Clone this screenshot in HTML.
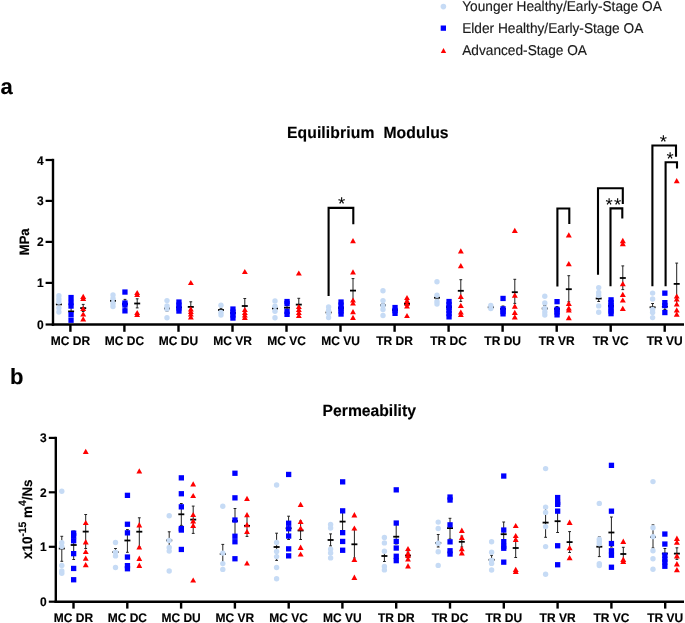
<!DOCTYPE html>
<html><head><meta charset="utf-8"><style>
html,body{margin:0;padding:0;background:#fff;}
svg{display:block;will-change:transform;}
text{font-family:"Liberation Sans",sans-serif;text-rendering:geometricPrecision;}
</style></head><body>
<svg width="685" height="623" viewBox="0 0 685 623">
<rect width="685" height="623" fill="#fff"/>
<circle cx="443.4" cy="6.6" r="2.8" fill="#c6dbf5"/>
<rect x="440.7" y="25.5" width="5.3" height="5.3" fill="#0000ff"/>
<path d="M443.5 48.1L446.2 52.9L440.8 52.9Z" fill="#ff0000"/>
<text transform="translate(462.20 10.90) scale(1 1.04)" font-size="13.7" fill="#1a1a1a" stroke="#1a1a1a" stroke-width="0.15">Younger Healthy/Early-Stage OA</text>
<text transform="translate(462.20 32.70) scale(1 1.04)" font-size="13.7" fill="#1a1a1a" stroke="#1a1a1a" stroke-width="0.15">Elder Healthy/Early-Stage OA</text>
<text transform="translate(462.20 54.60) scale(1 1.04)" font-size="13.7" fill="#1a1a1a" stroke="#1a1a1a" stroke-width="0.15">Advanced-Stage OA</text>
<text transform="translate(0.50 94.30)" font-size="22" font-weight="bold" fill="#000" stroke="#000" stroke-width="0.15">a</text>
<text transform="translate(9.90 383.70)" font-size="22" font-weight="bold" fill="#000" stroke="#000" stroke-width="0.15">b</text>
<text transform="translate(286.90 138.40) scale(1 1.04)" font-size="15.7" font-weight="bold" fill="#000" stroke="#000" stroke-width="0.15" textLength="161.7" lengthAdjust="spacing">Equilibrium&#160; Modulus</text>
<text transform="translate(322.60 416.20) scale(1 1.04)" font-size="15.7" font-weight="bold" fill="#000" stroke="#000" stroke-width="0.15">Permeability</text>
<line x1="53.0" y1="158.8" x2="53.0" y2="325.8" stroke="#000" stroke-width="2.4"/>
<line x1="51.8" y1="324.5" x2="684" y2="324.5" stroke="#000" stroke-width="2.6"/>
<line x1="45.6" y1="324.5" x2="53.0" y2="324.5" stroke="#000" stroke-width="2.2"/>
<text transform="translate(43.70 329.00) scale(1 1.04)" font-size="12" font-weight="bold" text-anchor="end" fill="#000" stroke="#000" stroke-width="0.15">0</text>
<line x1="45.6" y1="282.9" x2="53.0" y2="282.9" stroke="#000" stroke-width="2.2"/>
<text transform="translate(43.70 287.35) scale(1 1.04)" font-size="12" font-weight="bold" text-anchor="end" fill="#000" stroke="#000" stroke-width="0.15">1</text>
<line x1="45.6" y1="241.9" x2="53.0" y2="241.9" stroke="#000" stroke-width="2.2"/>
<text transform="translate(43.70 246.40) scale(1 1.04)" font-size="12" font-weight="bold" text-anchor="end" fill="#000" stroke="#000" stroke-width="0.15">2</text>
<line x1="45.6" y1="200.9" x2="53.0" y2="200.9" stroke="#000" stroke-width="2.2"/>
<text transform="translate(43.70 205.45) scale(1 1.04)" font-size="12" font-weight="bold" text-anchor="end" fill="#000" stroke="#000" stroke-width="0.15">3</text>
<line x1="45.6" y1="160.0" x2="53.0" y2="160.0" stroke="#000" stroke-width="2.2"/>
<text transform="translate(43.70 164.50) scale(1 1.04)" font-size="12" font-weight="bold" text-anchor="end" fill="#000" stroke="#000" stroke-width="0.15">4</text>
<line x1="70.4" y1="325" x2="70.4" y2="331.8" stroke="#000" stroke-width="2.4"/>
<text transform="translate(70.40 344.80) scale(1 1.04)" font-size="12" font-weight="bold" text-anchor="middle" fill="#000" stroke="#000" stroke-width="0.15">MC DR</text>
<line x1="124.4" y1="325" x2="124.4" y2="331.8" stroke="#000" stroke-width="2.4"/>
<text transform="translate(124.43 344.80) scale(1 1.04)" font-size="12" font-weight="bold" text-anchor="middle" fill="#000" stroke="#000" stroke-width="0.15">MC DC</text>
<line x1="178.5" y1="325" x2="178.5" y2="331.8" stroke="#000" stroke-width="2.4"/>
<text transform="translate(178.46 344.80) scale(1 1.04)" font-size="12" font-weight="bold" text-anchor="middle" fill="#000" stroke="#000" stroke-width="0.15">MC DU</text>
<line x1="232.5" y1="325" x2="232.5" y2="331.8" stroke="#000" stroke-width="2.4"/>
<text transform="translate(232.49 344.80) scale(1 1.04)" font-size="12" font-weight="bold" text-anchor="middle" fill="#000" stroke="#000" stroke-width="0.15">MC VR</text>
<line x1="286.5" y1="325" x2="286.5" y2="331.8" stroke="#000" stroke-width="2.4"/>
<text transform="translate(286.52 344.80) scale(1 1.04)" font-size="12" font-weight="bold" text-anchor="middle" fill="#000" stroke="#000" stroke-width="0.15">MC VC</text>
<line x1="340.5" y1="325" x2="340.5" y2="331.8" stroke="#000" stroke-width="2.4"/>
<text transform="translate(340.55 344.80) scale(1 1.04)" font-size="12" font-weight="bold" text-anchor="middle" fill="#000" stroke="#000" stroke-width="0.15">MC VU</text>
<line x1="394.6" y1="325" x2="394.6" y2="331.8" stroke="#000" stroke-width="2.4"/>
<text transform="translate(394.58 344.80) scale(1 1.04)" font-size="12" font-weight="bold" text-anchor="middle" fill="#000" stroke="#000" stroke-width="0.15">TR DR</text>
<line x1="448.6" y1="325" x2="448.6" y2="331.8" stroke="#000" stroke-width="2.4"/>
<text transform="translate(448.61 344.80) scale(1 1.04)" font-size="12" font-weight="bold" text-anchor="middle" fill="#000" stroke="#000" stroke-width="0.15">TR DC</text>
<line x1="502.6" y1="325" x2="502.6" y2="331.8" stroke="#000" stroke-width="2.4"/>
<text transform="translate(502.64 344.80) scale(1 1.04)" font-size="12" font-weight="bold" text-anchor="middle" fill="#000" stroke="#000" stroke-width="0.15">TR DU</text>
<line x1="556.7" y1="325" x2="556.7" y2="331.8" stroke="#000" stroke-width="2.4"/>
<text transform="translate(556.67 344.80) scale(1 1.04)" font-size="12" font-weight="bold" text-anchor="middle" fill="#000" stroke="#000" stroke-width="0.15">TR VR</text>
<line x1="610.7" y1="325" x2="610.7" y2="331.8" stroke="#000" stroke-width="2.4"/>
<text transform="translate(610.70 344.80) scale(1 1.04)" font-size="12" font-weight="bold" text-anchor="middle" fill="#000" stroke="#000" stroke-width="0.15">TR VC</text>
<line x1="664.7" y1="325" x2="664.7" y2="331.8" stroke="#000" stroke-width="2.4"/>
<text transform="translate(664.73 344.80) scale(1 1.04)" font-size="12" font-weight="bold" text-anchor="middle" fill="#000" stroke="#000" stroke-width="0.15">TR VU</text>
<text transform="translate(28.90 241.80) rotate(-90) scale(1 1.04)" font-size="13.1" font-weight="bold" text-anchor="middle" fill="#000" stroke="#000" stroke-width="0.15">MPa</text>
<line x1="55.8" y1="436.8" x2="55.8" y2="603" stroke="#000" stroke-width="2.4"/>
<line x1="54.599999999999994" y1="601.7" x2="684" y2="601.7" stroke="#000" stroke-width="2.6"/>
<line x1="48.8" y1="601.7" x2="55.8" y2="601.7" stroke="#000" stroke-width="2.2"/>
<text transform="translate(46.70 606.00) scale(1 1.04)" font-size="12" font-weight="bold" text-anchor="end" fill="#000" stroke="#000" stroke-width="0.15">0</text>
<line x1="48.8" y1="546.8" x2="55.8" y2="546.8" stroke="#000" stroke-width="2.2"/>
<text transform="translate(46.70 551.07) scale(1 1.04)" font-size="12" font-weight="bold" text-anchor="end" fill="#000" stroke="#000" stroke-width="0.15">1</text>
<line x1="48.8" y1="492.3" x2="55.8" y2="492.3" stroke="#000" stroke-width="2.2"/>
<text transform="translate(46.70 496.64) scale(1 1.04)" font-size="12" font-weight="bold" text-anchor="end" fill="#000" stroke="#000" stroke-width="0.15">2</text>
<line x1="48.8" y1="437.9" x2="55.8" y2="437.9" stroke="#000" stroke-width="2.2"/>
<text transform="translate(46.70 442.21) scale(1 1.04)" font-size="12" font-weight="bold" text-anchor="end" fill="#000" stroke="#000" stroke-width="0.15">3</text>
<line x1="73.5" y1="602.5" x2="73.5" y2="608.6" stroke="#000" stroke-width="2.4"/>
<text transform="translate(73.50 621.80) scale(1 1.04)" font-size="12" font-weight="bold" text-anchor="middle" fill="#000" stroke="#000" stroke-width="0.15">MC DR</text>
<line x1="127.3" y1="602.5" x2="127.3" y2="608.6" stroke="#000" stroke-width="2.4"/>
<text transform="translate(127.29 621.80) scale(1 1.04)" font-size="12" font-weight="bold" text-anchor="middle" fill="#000" stroke="#000" stroke-width="0.15">MC DC</text>
<line x1="181.1" y1="602.5" x2="181.1" y2="608.6" stroke="#000" stroke-width="2.4"/>
<text transform="translate(181.08 621.80) scale(1 1.04)" font-size="12" font-weight="bold" text-anchor="middle" fill="#000" stroke="#000" stroke-width="0.15">MC DU</text>
<line x1="234.9" y1="602.5" x2="234.9" y2="608.6" stroke="#000" stroke-width="2.4"/>
<text transform="translate(234.87 621.80) scale(1 1.04)" font-size="12" font-weight="bold" text-anchor="middle" fill="#000" stroke="#000" stroke-width="0.15">MC VR</text>
<line x1="288.7" y1="602.5" x2="288.7" y2="608.6" stroke="#000" stroke-width="2.4"/>
<text transform="translate(288.66 621.80) scale(1 1.04)" font-size="12" font-weight="bold" text-anchor="middle" fill="#000" stroke="#000" stroke-width="0.15">MC VC</text>
<line x1="342.4" y1="602.5" x2="342.4" y2="608.6" stroke="#000" stroke-width="2.4"/>
<text transform="translate(342.45 621.80) scale(1 1.04)" font-size="12" font-weight="bold" text-anchor="middle" fill="#000" stroke="#000" stroke-width="0.15">MC VU</text>
<line x1="396.2" y1="602.5" x2="396.2" y2="608.6" stroke="#000" stroke-width="2.4"/>
<text transform="translate(396.24 621.80) scale(1 1.04)" font-size="12" font-weight="bold" text-anchor="middle" fill="#000" stroke="#000" stroke-width="0.15">TR DR</text>
<line x1="450.0" y1="602.5" x2="450.0" y2="608.6" stroke="#000" stroke-width="2.4"/>
<text transform="translate(450.03 621.80) scale(1 1.04)" font-size="12" font-weight="bold" text-anchor="middle" fill="#000" stroke="#000" stroke-width="0.15">TR DC</text>
<line x1="503.8" y1="602.5" x2="503.8" y2="608.6" stroke="#000" stroke-width="2.4"/>
<text transform="translate(503.82 621.80) scale(1 1.04)" font-size="12" font-weight="bold" text-anchor="middle" fill="#000" stroke="#000" stroke-width="0.15">TR DU</text>
<line x1="557.6" y1="602.5" x2="557.6" y2="608.6" stroke="#000" stroke-width="2.4"/>
<text transform="translate(557.61 621.80) scale(1 1.04)" font-size="12" font-weight="bold" text-anchor="middle" fill="#000" stroke="#000" stroke-width="0.15">TR VR</text>
<line x1="611.4" y1="602.5" x2="611.4" y2="608.6" stroke="#000" stroke-width="2.4"/>
<text transform="translate(611.40 621.80) scale(1 1.04)" font-size="12" font-weight="bold" text-anchor="middle" fill="#000" stroke="#000" stroke-width="0.15">TR VC</text>
<line x1="665.2" y1="602.5" x2="665.2" y2="608.6" stroke="#000" stroke-width="2.4"/>
<text transform="translate(665.19 621.80) scale(1 1.04)" font-size="12" font-weight="bold" text-anchor="middle" fill="#000" stroke="#000" stroke-width="0.15">TR VU</text>
<text transform="translate(31.80 519.20) rotate(-90) scale(1 1.04)" font-size="13.4" font-weight="bold" text-anchor="middle" fill="#000" stroke="#000" stroke-width="0.15">x10<tspan dy="-5.8" font-size="10.3">-15</tspan><tspan dy="5.8"> m</tspan><tspan dy="-5.8" font-size="10.3">4</tspan><tspan dy="5.8">/Ns</tspan></text>
<line x1="58.9" y1="301.5" x2="58.9" y2="307.5" stroke="#222" stroke-width="1"/>
<line x1="57.5" y1="301.5" x2="60.3" y2="301.5" stroke="#222" stroke-width="1"/>
<line x1="57.5" y1="307.5" x2="60.3" y2="307.5" stroke="#222" stroke-width="1"/>
<line x1="55.9" y1="304.4" x2="61.9" y2="304.4" stroke="#000" stroke-width="1.8"/>
<line x1="71.1" y1="307.5" x2="71.1" y2="315.0" stroke="#222" stroke-width="1"/>
<line x1="69.7" y1="307.5" x2="72.5" y2="307.5" stroke="#222" stroke-width="1"/>
<line x1="69.7" y1="315.0" x2="72.5" y2="315.0" stroke="#222" stroke-width="1"/>
<line x1="68.1" y1="311.4" x2="74.1" y2="311.4" stroke="#000" stroke-width="1.8"/>
<line x1="83.2" y1="304.4" x2="83.2" y2="311.5" stroke="#222" stroke-width="1"/>
<line x1="81.8" y1="304.4" x2="84.6" y2="304.4" stroke="#222" stroke-width="1"/>
<line x1="81.8" y1="311.5" x2="84.6" y2="311.5" stroke="#222" stroke-width="1"/>
<line x1="80.2" y1="308.1" x2="86.2" y2="308.1" stroke="#000" stroke-width="1.8"/>
<line x1="113.0" y1="298.0" x2="113.0" y2="303.5" stroke="#222" stroke-width="1"/>
<line x1="111.6" y1="298.0" x2="114.4" y2="298.0" stroke="#222" stroke-width="1"/>
<line x1="111.6" y1="303.5" x2="114.4" y2="303.5" stroke="#222" stroke-width="1"/>
<line x1="110.0" y1="300.8" x2="116.0" y2="300.8" stroke="#000" stroke-width="1.8"/>
<line x1="125.0" y1="299.4" x2="125.0" y2="308.6" stroke="#222" stroke-width="1"/>
<line x1="123.6" y1="299.4" x2="126.4" y2="299.4" stroke="#222" stroke-width="1"/>
<line x1="123.6" y1="308.6" x2="126.4" y2="308.6" stroke="#222" stroke-width="1"/>
<line x1="122.0" y1="304.0" x2="128.0" y2="304.0" stroke="#000" stroke-width="1.8"/>
<line x1="137.2" y1="298.8" x2="137.2" y2="307.9" stroke="#222" stroke-width="1"/>
<line x1="135.8" y1="298.8" x2="138.6" y2="298.8" stroke="#222" stroke-width="1"/>
<line x1="135.8" y1="307.9" x2="138.6" y2="307.9" stroke="#222" stroke-width="1"/>
<line x1="134.2" y1="303.5" x2="140.2" y2="303.5" stroke="#000" stroke-width="1.8"/>
<line x1="167.0" y1="305.5" x2="167.0" y2="311.0" stroke="#222" stroke-width="1"/>
<line x1="165.6" y1="305.5" x2="168.4" y2="305.5" stroke="#222" stroke-width="1"/>
<line x1="165.6" y1="311.0" x2="168.4" y2="311.0" stroke="#222" stroke-width="1"/>
<line x1="164.0" y1="308.5" x2="170.0" y2="308.5" stroke="#000" stroke-width="1.8"/>
<line x1="179.0" y1="305.5" x2="179.0" y2="310.0" stroke="#222" stroke-width="1"/>
<line x1="177.6" y1="305.5" x2="180.4" y2="305.5" stroke="#222" stroke-width="1"/>
<line x1="177.6" y1="310.0" x2="180.4" y2="310.0" stroke="#222" stroke-width="1"/>
<line x1="176.0" y1="307.5" x2="182.0" y2="307.5" stroke="#000" stroke-width="1.8"/>
<line x1="190.8" y1="301.8" x2="190.8" y2="311.0" stroke="#222" stroke-width="1"/>
<line x1="189.4" y1="301.8" x2="192.2" y2="301.8" stroke="#222" stroke-width="1"/>
<line x1="189.4" y1="311.0" x2="192.2" y2="311.0" stroke="#222" stroke-width="1"/>
<line x1="187.8" y1="306.9" x2="193.8" y2="306.9" stroke="#000" stroke-width="1.8"/>
<line x1="221.0" y1="308.3" x2="221.0" y2="312.0" stroke="#222" stroke-width="1"/>
<line x1="219.6" y1="308.3" x2="222.4" y2="308.3" stroke="#222" stroke-width="1"/>
<line x1="219.6" y1="312.0" x2="222.4" y2="312.0" stroke="#222" stroke-width="1"/>
<line x1="218.0" y1="310.0" x2="224.0" y2="310.0" stroke="#000" stroke-width="1.8"/>
<line x1="233.0" y1="311.0" x2="233.0" y2="315.0" stroke="#222" stroke-width="1"/>
<line x1="231.6" y1="311.0" x2="234.4" y2="311.0" stroke="#222" stroke-width="1"/>
<line x1="231.6" y1="315.0" x2="234.4" y2="315.0" stroke="#222" stroke-width="1"/>
<line x1="230.0" y1="313.0" x2="236.0" y2="313.0" stroke="#000" stroke-width="1.8"/>
<line x1="244.8" y1="298.5" x2="244.8" y2="311.0" stroke="#222" stroke-width="1"/>
<line x1="243.4" y1="298.5" x2="246.2" y2="298.5" stroke="#222" stroke-width="1"/>
<line x1="243.4" y1="311.0" x2="246.2" y2="311.0" stroke="#222" stroke-width="1"/>
<line x1="241.8" y1="306.0" x2="247.8" y2="306.0" stroke="#000" stroke-width="1.8"/>
<line x1="275.0" y1="305.5" x2="275.0" y2="311.5" stroke="#222" stroke-width="1"/>
<line x1="273.6" y1="305.5" x2="276.4" y2="305.5" stroke="#222" stroke-width="1"/>
<line x1="273.6" y1="311.5" x2="276.4" y2="311.5" stroke="#222" stroke-width="1"/>
<line x1="272.0" y1="308.5" x2="278.0" y2="308.5" stroke="#000" stroke-width="1.8"/>
<line x1="287.0" y1="305.5" x2="287.0" y2="310.0" stroke="#222" stroke-width="1"/>
<line x1="285.6" y1="305.5" x2="288.4" y2="305.5" stroke="#222" stroke-width="1"/>
<line x1="285.6" y1="310.0" x2="288.4" y2="310.0" stroke="#222" stroke-width="1"/>
<line x1="284.0" y1="307.7" x2="290.0" y2="307.7" stroke="#000" stroke-width="1.8"/>
<line x1="298.8" y1="298.3" x2="298.8" y2="310.0" stroke="#222" stroke-width="1"/>
<line x1="297.4" y1="298.3" x2="300.2" y2="298.3" stroke="#222" stroke-width="1"/>
<line x1="297.4" y1="310.0" x2="300.2" y2="310.0" stroke="#222" stroke-width="1"/>
<line x1="295.8" y1="304.6" x2="301.8" y2="304.6" stroke="#000" stroke-width="1.8"/>
<line x1="328.6" y1="310.0" x2="328.6" y2="315.0" stroke="#222" stroke-width="1"/>
<line x1="327.2" y1="310.0" x2="330.0" y2="310.0" stroke="#222" stroke-width="1"/>
<line x1="327.2" y1="315.0" x2="330.0" y2="315.0" stroke="#222" stroke-width="1"/>
<line x1="325.6" y1="312.5" x2="331.6" y2="312.5" stroke="#000" stroke-width="1.8"/>
<line x1="341.0" y1="305.5" x2="341.0" y2="310.5" stroke="#222" stroke-width="1"/>
<line x1="339.6" y1="305.5" x2="342.4" y2="305.5" stroke="#222" stroke-width="1"/>
<line x1="339.6" y1="310.5" x2="342.4" y2="310.5" stroke="#222" stroke-width="1"/>
<line x1="338.0" y1="308.0" x2="344.0" y2="308.0" stroke="#000" stroke-width="1.8"/>
<line x1="353.0" y1="278.6" x2="353.0" y2="300.9" stroke="#222" stroke-width="1"/>
<line x1="351.6" y1="278.6" x2="354.4" y2="278.6" stroke="#222" stroke-width="1"/>
<line x1="351.6" y1="300.9" x2="354.4" y2="300.9" stroke="#222" stroke-width="1"/>
<line x1="350.0" y1="290.6" x2="356.0" y2="290.6" stroke="#000" stroke-width="1.8"/>
<line x1="383.0" y1="303.5" x2="383.0" y2="307.5" stroke="#222" stroke-width="1"/>
<line x1="381.6" y1="303.5" x2="384.4" y2="303.5" stroke="#222" stroke-width="1"/>
<line x1="381.6" y1="307.5" x2="384.4" y2="307.5" stroke="#222" stroke-width="1"/>
<line x1="380.0" y1="305.3" x2="386.0" y2="305.3" stroke="#000" stroke-width="1.8"/>
<line x1="395.0" y1="308.0" x2="395.0" y2="312.0" stroke="#222" stroke-width="1"/>
<line x1="393.6" y1="308.0" x2="396.4" y2="308.0" stroke="#222" stroke-width="1"/>
<line x1="393.6" y1="312.0" x2="396.4" y2="312.0" stroke="#222" stroke-width="1"/>
<line x1="392.0" y1="310.0" x2="398.0" y2="310.0" stroke="#000" stroke-width="1.8"/>
<line x1="407.0" y1="301.0" x2="407.0" y2="307.0" stroke="#222" stroke-width="1"/>
<line x1="405.6" y1="301.0" x2="408.4" y2="301.0" stroke="#222" stroke-width="1"/>
<line x1="405.6" y1="307.0" x2="408.4" y2="307.0" stroke="#222" stroke-width="1"/>
<line x1="404.0" y1="303.9" x2="410.0" y2="303.9" stroke="#000" stroke-width="1.8"/>
<line x1="437.0" y1="296.0" x2="437.0" y2="299.4" stroke="#222" stroke-width="1"/>
<line x1="435.6" y1="296.0" x2="438.4" y2="296.0" stroke="#222" stroke-width="1"/>
<line x1="435.6" y1="299.4" x2="438.4" y2="299.4" stroke="#222" stroke-width="1"/>
<line x1="434.0" y1="297.7" x2="440.0" y2="297.7" stroke="#000" stroke-width="1.8"/>
<line x1="449.0" y1="304.5" x2="449.0" y2="309.5" stroke="#222" stroke-width="1"/>
<line x1="447.6" y1="304.5" x2="450.4" y2="304.5" stroke="#222" stroke-width="1"/>
<line x1="447.6" y1="309.5" x2="450.4" y2="309.5" stroke="#222" stroke-width="1"/>
<line x1="446.0" y1="307.0" x2="452.0" y2="307.0" stroke="#000" stroke-width="1.8"/>
<line x1="460.8" y1="279.7" x2="460.8" y2="301.4" stroke="#222" stroke-width="1"/>
<line x1="459.4" y1="279.7" x2="462.2" y2="279.7" stroke="#222" stroke-width="1"/>
<line x1="459.4" y1="301.4" x2="462.2" y2="301.4" stroke="#222" stroke-width="1"/>
<line x1="457.8" y1="290.8" x2="463.8" y2="290.8" stroke="#000" stroke-width="1.8"/>
<line x1="490.8" y1="306.0" x2="490.8" y2="308.5" stroke="#222" stroke-width="1"/>
<line x1="489.4" y1="306.0" x2="492.2" y2="306.0" stroke="#222" stroke-width="1"/>
<line x1="489.4" y1="308.5" x2="492.2" y2="308.5" stroke="#222" stroke-width="1"/>
<line x1="487.8" y1="307.3" x2="493.8" y2="307.3" stroke="#000" stroke-width="1.8"/>
<line x1="503.0" y1="306.0" x2="503.0" y2="312.0" stroke="#222" stroke-width="1"/>
<line x1="501.6" y1="306.0" x2="504.4" y2="306.0" stroke="#222" stroke-width="1"/>
<line x1="501.6" y1="312.0" x2="504.4" y2="312.0" stroke="#222" stroke-width="1"/>
<line x1="500.0" y1="309.0" x2="506.0" y2="309.0" stroke="#000" stroke-width="1.8"/>
<line x1="514.8" y1="279.3" x2="514.8" y2="303.4" stroke="#222" stroke-width="1"/>
<line x1="513.4" y1="279.3" x2="516.2" y2="279.3" stroke="#222" stroke-width="1"/>
<line x1="513.4" y1="303.4" x2="516.2" y2="303.4" stroke="#222" stroke-width="1"/>
<line x1="511.8" y1="292.2" x2="517.8" y2="292.2" stroke="#000" stroke-width="1.8"/>
<line x1="544.8" y1="305.5" x2="544.8" y2="309.5" stroke="#222" stroke-width="1"/>
<line x1="543.4" y1="305.5" x2="546.2" y2="305.5" stroke="#222" stroke-width="1"/>
<line x1="543.4" y1="309.5" x2="546.2" y2="309.5" stroke="#222" stroke-width="1"/>
<line x1="541.8" y1="308.5" x2="547.8" y2="308.5" stroke="#000" stroke-width="1.8"/>
<line x1="557.0" y1="306.5" x2="557.0" y2="311.5" stroke="#222" stroke-width="1"/>
<line x1="555.6" y1="306.5" x2="558.4" y2="306.5" stroke="#222" stroke-width="1"/>
<line x1="555.6" y1="311.5" x2="558.4" y2="311.5" stroke="#222" stroke-width="1"/>
<line x1="554.0" y1="309.0" x2="560.0" y2="309.0" stroke="#000" stroke-width="1.8"/>
<line x1="568.8" y1="275.7" x2="568.8" y2="301.8" stroke="#222" stroke-width="1"/>
<line x1="567.4" y1="275.7" x2="570.2" y2="275.7" stroke="#222" stroke-width="1"/>
<line x1="567.4" y1="301.8" x2="570.2" y2="301.8" stroke="#222" stroke-width="1"/>
<line x1="565.8" y1="289.2" x2="571.8" y2="289.2" stroke="#000" stroke-width="1.8"/>
<line x1="598.7" y1="295.5" x2="598.7" y2="301.5" stroke="#222" stroke-width="1"/>
<line x1="597.3" y1="295.5" x2="600.1" y2="295.5" stroke="#222" stroke-width="1"/>
<line x1="597.3" y1="301.5" x2="600.1" y2="301.5" stroke="#222" stroke-width="1"/>
<line x1="595.7" y1="298.5" x2="601.7" y2="298.5" stroke="#000" stroke-width="1.8"/>
<line x1="611.0" y1="303.5" x2="611.0" y2="308.5" stroke="#222" stroke-width="1"/>
<line x1="609.6" y1="303.5" x2="612.4" y2="303.5" stroke="#222" stroke-width="1"/>
<line x1="609.6" y1="308.5" x2="612.4" y2="308.5" stroke="#222" stroke-width="1"/>
<line x1="608.0" y1="306.0" x2="614.0" y2="306.0" stroke="#000" stroke-width="1.8"/>
<line x1="622.8" y1="265.9" x2="622.8" y2="289.6" stroke="#222" stroke-width="1"/>
<line x1="621.4" y1="265.9" x2="624.2" y2="265.9" stroke="#222" stroke-width="1"/>
<line x1="621.4" y1="289.6" x2="624.2" y2="289.6" stroke="#222" stroke-width="1"/>
<line x1="619.8" y1="278.0" x2="625.8" y2="278.0" stroke="#000" stroke-width="1.8"/>
<line x1="652.6" y1="303.5" x2="652.6" y2="310.5" stroke="#222" stroke-width="1"/>
<line x1="651.2" y1="303.5" x2="654.0" y2="303.5" stroke="#222" stroke-width="1"/>
<line x1="651.2" y1="310.5" x2="654.0" y2="310.5" stroke="#222" stroke-width="1"/>
<line x1="649.6" y1="307.3" x2="655.6" y2="307.3" stroke="#000" stroke-width="1.8"/>
<line x1="664.9" y1="303.5" x2="664.9" y2="309.5" stroke="#222" stroke-width="1"/>
<line x1="663.5" y1="303.5" x2="666.3" y2="303.5" stroke="#222" stroke-width="1"/>
<line x1="663.5" y1="309.5" x2="666.3" y2="309.5" stroke="#222" stroke-width="1"/>
<line x1="661.9" y1="306.6" x2="667.9" y2="306.6" stroke="#000" stroke-width="1.8"/>
<line x1="676.7" y1="263.1" x2="676.7" y2="304.5" stroke="#222" stroke-width="1"/>
<line x1="675.3" y1="263.1" x2="678.1" y2="263.1" stroke="#222" stroke-width="1"/>
<line x1="675.3" y1="304.5" x2="678.1" y2="304.5" stroke="#222" stroke-width="1"/>
<line x1="673.7" y1="283.9" x2="679.7" y2="283.9" stroke="#000" stroke-width="1.8"/>
<circle cx="58.9" cy="295.8" r="2.7" fill="#c6dbf5"/>
<circle cx="58.9" cy="299.0" r="2.7" fill="#c6dbf5"/>
<circle cx="58.9" cy="302.0" r="2.7" fill="#c6dbf5"/>
<circle cx="58.9" cy="308.0" r="2.7" fill="#c6dbf5"/>
<circle cx="58.9" cy="312.0" r="2.7" fill="#c6dbf5"/>
<rect x="68.4" y="294.9" width="5.3" height="5.3" fill="#0000ff"/>
<rect x="68.4" y="299.9" width="5.3" height="5.3" fill="#0000ff"/>
<rect x="68.4" y="303.4" width="5.3" height="5.3" fill="#0000ff"/>
<rect x="68.4" y="312.0" width="5.3" height="5.3" fill="#0000ff"/>
<rect x="68.4" y="317.6" width="5.3" height="5.3" fill="#0000ff"/>
<path d="M83.2 293.7L86.2 298.9L80.2 298.9Z" fill="#ff0000"/>
<path d="M83.2 295.9L86.2 301.1L80.2 301.1Z" fill="#ff0000"/>
<path d="M83.2 305.9L86.2 311.1L80.2 311.1Z" fill="#ff0000"/>
<path d="M83.2 311.4L86.2 316.6L80.2 316.6Z" fill="#ff0000"/>
<path d="M83.2 316.2L86.2 321.4L80.2 321.4Z" fill="#ff0000"/>
<circle cx="113.0" cy="295.0" r="2.7" fill="#c6dbf5"/>
<circle cx="113.0" cy="298.5" r="2.7" fill="#c6dbf5"/>
<circle cx="113.0" cy="303.5" r="2.7" fill="#c6dbf5"/>
<circle cx="113.0" cy="306.5" r="2.7" fill="#c6dbf5"/>
<rect x="122.3" y="289.4" width="5.3" height="5.3" fill="#0000ff"/>
<rect x="122.3" y="300.4" width="5.3" height="5.3" fill="#0000ff"/>
<rect x="122.3" y="302.4" width="5.3" height="5.3" fill="#0000ff"/>
<rect x="122.3" y="308.2" width="5.3" height="5.3" fill="#0000ff"/>
<path d="M137.2 289.9L140.1 295.1L134.2 295.1Z" fill="#ff0000"/>
<path d="M137.2 291.9L140.1 297.1L134.2 297.1Z" fill="#ff0000"/>
<path d="M137.2 309.9L140.1 315.1L134.2 315.1Z" fill="#ff0000"/>
<path d="M137.2 311.9L140.1 317.1L134.2 317.1Z" fill="#ff0000"/>
<circle cx="167.0" cy="300.6" r="2.7" fill="#c6dbf5"/>
<circle cx="167.0" cy="306.0" r="2.7" fill="#c6dbf5"/>
<circle cx="167.0" cy="309.0" r="2.7" fill="#c6dbf5"/>
<circle cx="167.0" cy="317.7" r="2.7" fill="#c6dbf5"/>
<rect x="176.3" y="299.4" width="5.3" height="5.3" fill="#0000ff"/>
<rect x="176.3" y="302.4" width="5.3" height="5.3" fill="#0000ff"/>
<rect x="176.3" y="305.4" width="5.3" height="5.3" fill="#0000ff"/>
<rect x="176.3" y="308.4" width="5.3" height="5.3" fill="#0000ff"/>
<path d="M190.8 279.9L193.8 285.1L187.9 285.1Z" fill="#ff0000"/>
<path d="M190.8 306.2L193.8 311.4L187.9 311.4Z" fill="#ff0000"/>
<path d="M190.8 308.9L193.8 314.1L187.9 314.1Z" fill="#ff0000"/>
<path d="M190.8 311.4L193.8 316.6L187.9 316.6Z" fill="#ff0000"/>
<path d="M190.8 314.2L193.8 319.4L187.9 319.4Z" fill="#ff0000"/>
<circle cx="221.0" cy="305.3" r="2.7" fill="#c6dbf5"/>
<circle cx="221.0" cy="312.5" r="2.7" fill="#c6dbf5"/>
<circle cx="221.0" cy="315.0" r="2.7" fill="#c6dbf5"/>
<rect x="230.3" y="306.4" width="5.3" height="5.3" fill="#0000ff"/>
<rect x="230.3" y="309.4" width="5.3" height="5.3" fill="#0000ff"/>
<rect x="230.3" y="312.4" width="5.3" height="5.3" fill="#0000ff"/>
<rect x="230.3" y="315.4" width="5.3" height="5.3" fill="#0000ff"/>
<path d="M244.8 268.9L247.8 274.1L241.9 274.1Z" fill="#ff0000"/>
<path d="M244.8 306.9L247.8 312.1L241.9 312.1Z" fill="#ff0000"/>
<path d="M244.8 309.9L247.8 315.1L241.9 315.1Z" fill="#ff0000"/>
<path d="M244.8 312.4L247.8 317.6L241.9 317.6Z" fill="#ff0000"/>
<path d="M244.8 314.7L247.8 319.9L241.9 319.9Z" fill="#ff0000"/>
<circle cx="275.0" cy="300.9" r="2.7" fill="#c6dbf5"/>
<circle cx="275.0" cy="306.2" r="2.7" fill="#c6dbf5"/>
<circle cx="275.0" cy="311.3" r="2.7" fill="#c6dbf5"/>
<circle cx="275.0" cy="317.7" r="2.7" fill="#c6dbf5"/>
<rect x="284.4" y="298.9" width="5.3" height="5.3" fill="#0000ff"/>
<rect x="284.4" y="300.9" width="5.3" height="5.3" fill="#0000ff"/>
<rect x="284.4" y="308.7" width="5.3" height="5.3" fill="#0000ff"/>
<rect x="284.4" y="311.7" width="5.3" height="5.3" fill="#0000ff"/>
<path d="M298.8 270.4L301.8 275.6L295.9 275.6Z" fill="#ff0000"/>
<path d="M298.8 303.9L301.8 309.1L295.9 309.1Z" fill="#ff0000"/>
<path d="M298.8 306.9L301.8 312.1L295.9 312.1Z" fill="#ff0000"/>
<path d="M298.8 309.9L301.8 315.1L295.9 315.1Z" fill="#ff0000"/>
<path d="M298.8 312.9L301.8 318.1L295.9 318.1Z" fill="#ff0000"/>
<circle cx="328.6" cy="307.0" r="2.7" fill="#c6dbf5"/>
<circle cx="328.6" cy="310.5" r="2.7" fill="#c6dbf5"/>
<circle cx="328.6" cy="313.6" r="2.7" fill="#c6dbf5"/>
<circle cx="328.6" cy="317.6" r="2.7" fill="#c6dbf5"/>
<rect x="338.4" y="299.4" width="5.3" height="5.3" fill="#0000ff"/>
<rect x="338.4" y="302.4" width="5.3" height="5.3" fill="#0000ff"/>
<rect x="338.4" y="305.9" width="5.3" height="5.3" fill="#0000ff"/>
<rect x="338.4" y="308.4" width="5.3" height="5.3" fill="#0000ff"/>
<rect x="338.4" y="311.4" width="5.3" height="5.3" fill="#0000ff"/>
<path d="M353.0 237.9L355.9 243.2L350.1 243.2Z" fill="#ff0000"/>
<path d="M353.0 269.2L355.9 274.4L350.1 274.4Z" fill="#ff0000"/>
<path d="M353.0 297.4L355.9 302.6L350.1 302.6Z" fill="#ff0000"/>
<path d="M353.0 300.4L355.9 305.6L350.1 305.6Z" fill="#ff0000"/>
<path d="M353.0 309.1L355.9 314.3L350.1 314.3Z" fill="#ff0000"/>
<path d="M353.0 314.7L355.9 319.9L350.1 319.9Z" fill="#ff0000"/>
<circle cx="383.0" cy="290.8" r="2.7" fill="#c6dbf5"/>
<circle cx="383.0" cy="300.6" r="2.7" fill="#c6dbf5"/>
<circle cx="383.0" cy="305.6" r="2.7" fill="#c6dbf5"/>
<circle cx="383.0" cy="309.5" r="2.7" fill="#c6dbf5"/>
<circle cx="383.0" cy="315.5" r="2.7" fill="#c6dbf5"/>
<rect x="392.4" y="304.9" width="5.3" height="5.3" fill="#0000ff"/>
<rect x="392.4" y="307.9" width="5.3" height="5.3" fill="#0000ff"/>
<rect x="392.4" y="310.7" width="5.3" height="5.3" fill="#0000ff"/>
<path d="M407.0 294.9L409.9 300.1L404.1 300.1Z" fill="#ff0000"/>
<path d="M407.0 297.9L409.9 303.1L404.1 303.1Z" fill="#ff0000"/>
<path d="M407.0 300.9L409.9 306.1L404.1 306.1Z" fill="#ff0000"/>
<path d="M407.0 303.4L409.9 308.6L404.1 308.6Z" fill="#ff0000"/>
<path d="M407.0 312.9L409.9 318.1L404.1 318.1Z" fill="#ff0000"/>
<circle cx="437.0" cy="281.7" r="2.7" fill="#c6dbf5"/>
<circle cx="437.0" cy="295.3" r="2.7" fill="#c6dbf5"/>
<circle cx="437.0" cy="301.5" r="2.7" fill="#c6dbf5"/>
<circle cx="437.0" cy="304.0" r="2.7" fill="#c6dbf5"/>
<rect x="446.4" y="298.9" width="5.3" height="5.3" fill="#0000ff"/>
<rect x="446.4" y="301.9" width="5.3" height="5.3" fill="#0000ff"/>
<rect x="446.4" y="304.9" width="5.3" height="5.3" fill="#0000ff"/>
<rect x="446.4" y="307.9" width="5.3" height="5.3" fill="#0000ff"/>
<rect x="446.4" y="310.9" width="5.3" height="5.3" fill="#0000ff"/>
<rect x="446.4" y="314.2" width="5.3" height="5.3" fill="#0000ff"/>
<path d="M460.8 248.2L463.8 253.5L457.9 253.5Z" fill="#ff0000"/>
<path d="M460.8 263.0L463.8 268.2L457.9 268.2Z" fill="#ff0000"/>
<path d="M460.8 293.7L463.8 298.9L457.9 298.9Z" fill="#ff0000"/>
<path d="M460.8 302.7L463.8 307.9L457.9 307.9Z" fill="#ff0000"/>
<path d="M460.8 309.4L463.8 314.6L457.9 314.6Z" fill="#ff0000"/>
<path d="M460.8 311.9L463.8 317.1L457.9 317.1Z" fill="#ff0000"/>
<circle cx="490.8" cy="305.5" r="2.7" fill="#c6dbf5"/>
<circle cx="490.8" cy="308.5" r="2.7" fill="#c6dbf5"/>
<rect x="500.4" y="295.8" width="5.3" height="5.3" fill="#0000ff"/>
<rect x="500.4" y="306.2" width="5.3" height="5.3" fill="#0000ff"/>
<rect x="500.4" y="308.9" width="5.3" height="5.3" fill="#0000ff"/>
<rect x="500.4" y="311.2" width="5.3" height="5.3" fill="#0000ff"/>
<path d="M514.8 227.8L517.8 233.1L511.8 233.1Z" fill="#ff0000"/>
<path d="M514.8 292.5L517.8 297.8L511.8 297.8Z" fill="#ff0000"/>
<path d="M514.8 303.5L517.8 308.8L511.8 308.8Z" fill="#ff0000"/>
<path d="M514.8 309.8L517.8 315.0L511.8 315.0Z" fill="#ff0000"/>
<path d="M514.8 314.2L517.8 319.4L511.8 319.4Z" fill="#ff0000"/>
<circle cx="544.8" cy="296.3" r="2.7" fill="#c6dbf5"/>
<circle cx="544.8" cy="303.0" r="2.7" fill="#c6dbf5"/>
<circle cx="544.8" cy="308.5" r="2.7" fill="#c6dbf5"/>
<circle cx="544.8" cy="312.0" r="2.7" fill="#c6dbf5"/>
<circle cx="544.8" cy="315.0" r="2.7" fill="#c6dbf5"/>
<rect x="554.4" y="299.0" width="5.3" height="5.3" fill="#0000ff"/>
<rect x="554.4" y="306.7" width="5.3" height="5.3" fill="#0000ff"/>
<rect x="554.4" y="309.4" width="5.3" height="5.3" fill="#0000ff"/>
<rect x="554.4" y="312.2" width="5.3" height="5.3" fill="#0000ff"/>
<path d="M568.8 232.2L571.8 237.6L565.8 237.6Z" fill="#ff0000"/>
<path d="M568.8 261.1L571.8 266.3L565.8 266.3Z" fill="#ff0000"/>
<path d="M568.8 300.8L571.8 306.0L565.8 306.0Z" fill="#ff0000"/>
<path d="M568.8 305.4L571.8 310.6L565.8 310.6Z" fill="#ff0000"/>
<path d="M568.8 307.4L571.8 312.6L565.8 312.6Z" fill="#ff0000"/>
<path d="M568.8 315.0L571.8 320.2L565.8 320.2Z" fill="#ff0000"/>
<circle cx="598.7" cy="287.6" r="2.7" fill="#c6dbf5"/>
<circle cx="598.7" cy="292.5" r="2.7" fill="#c6dbf5"/>
<circle cx="598.7" cy="295.5" r="2.7" fill="#c6dbf5"/>
<circle cx="598.7" cy="305.9" r="2.7" fill="#c6dbf5"/>
<circle cx="598.7" cy="312.2" r="2.7" fill="#c6dbf5"/>
<rect x="608.4" y="297.2" width="5.3" height="5.3" fill="#0000ff"/>
<rect x="608.4" y="299.9" width="5.3" height="5.3" fill="#0000ff"/>
<rect x="608.4" y="302.9" width="5.3" height="5.3" fill="#0000ff"/>
<rect x="608.4" y="305.9" width="5.3" height="5.3" fill="#0000ff"/>
<rect x="608.4" y="308.4" width="5.3" height="5.3" fill="#0000ff"/>
<rect x="608.4" y="311.0" width="5.3" height="5.3" fill="#0000ff"/>
<path d="M622.8 237.8L625.8 243.2L619.8 243.2Z" fill="#ff0000"/>
<path d="M622.8 240.8L625.8 246.2L619.8 246.2Z" fill="#ff0000"/>
<path d="M622.8 281.1L625.8 286.3L619.8 286.3Z" fill="#ff0000"/>
<path d="M622.8 291.7L625.8 296.9L619.8 296.9Z" fill="#ff0000"/>
<path d="M622.8 297.4L625.8 302.6L619.8 302.6Z" fill="#ff0000"/>
<path d="M622.8 305.7L625.8 310.9L619.8 310.9Z" fill="#ff0000"/>
<circle cx="652.6" cy="293.1" r="2.7" fill="#c6dbf5"/>
<circle cx="652.6" cy="299.0" r="2.7" fill="#c6dbf5"/>
<circle cx="652.6" cy="309.5" r="2.7" fill="#c6dbf5"/>
<circle cx="652.6" cy="312.5" r="2.7" fill="#c6dbf5"/>
<circle cx="652.6" cy="317.6" r="2.7" fill="#c6dbf5"/>
<rect x="662.2" y="290.5" width="5.3" height="5.3" fill="#0000ff"/>
<rect x="662.2" y="300.0" width="5.3" height="5.3" fill="#0000ff"/>
<rect x="662.2" y="302.9" width="5.3" height="5.3" fill="#0000ff"/>
<rect x="662.2" y="309.9" width="5.3" height="5.3" fill="#0000ff"/>
<path d="M676.7 177.9L679.7 183.2L673.8 183.2Z" fill="#ff0000"/>
<path d="M676.7 293.4L679.7 298.6L673.8 298.6Z" fill="#ff0000"/>
<path d="M676.7 296.4L679.7 301.6L673.8 301.6Z" fill="#ff0000"/>
<path d="M676.7 301.4L679.7 306.6L673.8 306.6Z" fill="#ff0000"/>
<path d="M676.7 307.2L679.7 312.4L673.8 312.4Z" fill="#ff0000"/>
<path d="M676.7 311.6L679.7 316.8L673.8 316.8Z" fill="#ff0000"/>
<line x1="61.8" y1="536.3" x2="61.8" y2="561.3" stroke="#222" stroke-width="1"/>
<line x1="60.4" y1="536.3" x2="63.2" y2="536.3" stroke="#222" stroke-width="1"/>
<line x1="60.4" y1="561.3" x2="63.2" y2="561.3" stroke="#222" stroke-width="1"/>
<line x1="58.8" y1="548.5" x2="64.8" y2="548.5" stroke="#000" stroke-width="1.8"/>
<line x1="73.7" y1="531.0" x2="73.7" y2="559.5" stroke="#222" stroke-width="1"/>
<line x1="72.3" y1="531.0" x2="75.1" y2="531.0" stroke="#222" stroke-width="1"/>
<line x1="72.3" y1="559.5" x2="75.1" y2="559.5" stroke="#222" stroke-width="1"/>
<line x1="70.7" y1="545.0" x2="76.7" y2="545.0" stroke="#000" stroke-width="1.8"/>
<line x1="85.7" y1="514.5" x2="85.7" y2="548.5" stroke="#222" stroke-width="1"/>
<line x1="84.3" y1="514.5" x2="87.1" y2="514.5" stroke="#222" stroke-width="1"/>
<line x1="84.3" y1="548.5" x2="87.1" y2="548.5" stroke="#222" stroke-width="1"/>
<line x1="82.7" y1="531.6" x2="88.7" y2="531.6" stroke="#000" stroke-width="1.8"/>
<line x1="115.5" y1="548.5" x2="115.5" y2="556.0" stroke="#222" stroke-width="1"/>
<line x1="114.1" y1="548.5" x2="116.9" y2="548.5" stroke="#222" stroke-width="1"/>
<line x1="114.1" y1="556.0" x2="116.9" y2="556.0" stroke="#222" stroke-width="1"/>
<line x1="112.5" y1="552.1" x2="118.5" y2="552.1" stroke="#000" stroke-width="1.8"/>
<line x1="127.4" y1="529.6" x2="127.4" y2="552.3" stroke="#222" stroke-width="1"/>
<line x1="126.0" y1="529.6" x2="128.8" y2="529.6" stroke="#222" stroke-width="1"/>
<line x1="126.0" y1="552.3" x2="128.8" y2="552.3" stroke="#222" stroke-width="1"/>
<line x1="124.4" y1="540.5" x2="130.4" y2="540.5" stroke="#000" stroke-width="1.8"/>
<line x1="139.3" y1="517.8" x2="139.3" y2="547.0" stroke="#222" stroke-width="1"/>
<line x1="137.9" y1="517.8" x2="140.7" y2="517.8" stroke="#222" stroke-width="1"/>
<line x1="137.9" y1="547.0" x2="140.7" y2="547.0" stroke="#222" stroke-width="1"/>
<line x1="136.3" y1="531.7" x2="142.3" y2="531.7" stroke="#000" stroke-width="1.8"/>
<line x1="169.2" y1="531.8" x2="169.2" y2="549.0" stroke="#222" stroke-width="1"/>
<line x1="167.8" y1="531.8" x2="170.6" y2="531.8" stroke="#222" stroke-width="1"/>
<line x1="167.8" y1="549.0" x2="170.6" y2="549.0" stroke="#222" stroke-width="1"/>
<line x1="166.2" y1="540.4" x2="172.2" y2="540.4" stroke="#000" stroke-width="1.8"/>
<line x1="181.3" y1="503.5" x2="181.3" y2="525.4" stroke="#222" stroke-width="1"/>
<line x1="179.9" y1="503.5" x2="182.7" y2="503.5" stroke="#222" stroke-width="1"/>
<line x1="179.9" y1="525.4" x2="182.7" y2="525.4" stroke="#222" stroke-width="1"/>
<line x1="178.3" y1="514.3" x2="184.3" y2="514.3" stroke="#000" stroke-width="1.8"/>
<line x1="193.2" y1="506.1" x2="193.2" y2="533.4" stroke="#222" stroke-width="1"/>
<line x1="191.8" y1="506.1" x2="194.6" y2="506.1" stroke="#222" stroke-width="1"/>
<line x1="191.8" y1="533.4" x2="194.6" y2="533.4" stroke="#222" stroke-width="1"/>
<line x1="190.2" y1="519.6" x2="196.2" y2="519.6" stroke="#000" stroke-width="1.8"/>
<line x1="222.8" y1="544.4" x2="222.8" y2="563.6" stroke="#222" stroke-width="1"/>
<line x1="221.4" y1="544.4" x2="224.2" y2="544.4" stroke="#222" stroke-width="1"/>
<line x1="221.4" y1="563.6" x2="224.2" y2="563.6" stroke="#222" stroke-width="1"/>
<line x1="219.8" y1="554.0" x2="225.8" y2="554.0" stroke="#000" stroke-width="1.8"/>
<line x1="235.0" y1="508.5" x2="235.0" y2="536.0" stroke="#222" stroke-width="1"/>
<line x1="233.6" y1="508.5" x2="236.4" y2="508.5" stroke="#222" stroke-width="1"/>
<line x1="233.6" y1="536.0" x2="236.4" y2="536.0" stroke="#222" stroke-width="1"/>
<line x1="232.0" y1="521.0" x2="238.0" y2="521.0" stroke="#000" stroke-width="1.8"/>
<line x1="247.0" y1="516.0" x2="247.0" y2="536.4" stroke="#222" stroke-width="1"/>
<line x1="245.6" y1="516.0" x2="248.4" y2="516.0" stroke="#222" stroke-width="1"/>
<line x1="245.6" y1="536.4" x2="248.4" y2="536.4" stroke="#222" stroke-width="1"/>
<line x1="244.0" y1="525.8" x2="250.0" y2="525.8" stroke="#000" stroke-width="1.8"/>
<line x1="276.6" y1="533.2" x2="276.6" y2="560.4" stroke="#222" stroke-width="1"/>
<line x1="275.2" y1="533.2" x2="278.0" y2="533.2" stroke="#222" stroke-width="1"/>
<line x1="275.2" y1="560.4" x2="278.0" y2="560.4" stroke="#222" stroke-width="1"/>
<line x1="273.6" y1="547.0" x2="279.6" y2="547.0" stroke="#000" stroke-width="1.8"/>
<line x1="288.6" y1="516.2" x2="288.6" y2="539.5" stroke="#222" stroke-width="1"/>
<line x1="287.2" y1="516.2" x2="290.0" y2="516.2" stroke="#222" stroke-width="1"/>
<line x1="287.2" y1="539.5" x2="290.0" y2="539.5" stroke="#222" stroke-width="1"/>
<line x1="285.6" y1="528.3" x2="291.6" y2="528.3" stroke="#000" stroke-width="1.8"/>
<line x1="300.6" y1="521.0" x2="300.6" y2="539.5" stroke="#222" stroke-width="1"/>
<line x1="299.2" y1="521.0" x2="302.0" y2="521.0" stroke="#222" stroke-width="1"/>
<line x1="299.2" y1="539.5" x2="302.0" y2="539.5" stroke="#222" stroke-width="1"/>
<line x1="297.6" y1="530.5" x2="303.6" y2="530.5" stroke="#000" stroke-width="1.8"/>
<line x1="330.6" y1="533.9" x2="330.6" y2="545.9" stroke="#222" stroke-width="1"/>
<line x1="329.2" y1="533.9" x2="332.0" y2="533.9" stroke="#222" stroke-width="1"/>
<line x1="329.2" y1="545.9" x2="332.0" y2="545.9" stroke="#222" stroke-width="1"/>
<line x1="327.6" y1="540.0" x2="333.6" y2="540.0" stroke="#000" stroke-width="1.8"/>
<line x1="342.6" y1="510.8" x2="342.6" y2="532.0" stroke="#222" stroke-width="1"/>
<line x1="341.2" y1="510.8" x2="344.0" y2="510.8" stroke="#222" stroke-width="1"/>
<line x1="341.2" y1="532.0" x2="344.0" y2="532.0" stroke="#222" stroke-width="1"/>
<line x1="339.6" y1="521.6" x2="345.6" y2="521.6" stroke="#000" stroke-width="1.8"/>
<line x1="354.4" y1="529.7" x2="354.4" y2="558.0" stroke="#222" stroke-width="1"/>
<line x1="353.0" y1="529.7" x2="355.8" y2="529.7" stroke="#222" stroke-width="1"/>
<line x1="353.0" y1="558.0" x2="355.8" y2="558.0" stroke="#222" stroke-width="1"/>
<line x1="351.4" y1="544.3" x2="357.4" y2="544.3" stroke="#000" stroke-width="1.8"/>
<line x1="384.4" y1="552.0" x2="384.4" y2="561.5" stroke="#222" stroke-width="1"/>
<line x1="383.0" y1="552.0" x2="385.8" y2="552.0" stroke="#222" stroke-width="1"/>
<line x1="383.0" y1="561.5" x2="385.8" y2="561.5" stroke="#222" stroke-width="1"/>
<line x1="381.4" y1="556.0" x2="387.4" y2="556.0" stroke="#000" stroke-width="1.8"/>
<line x1="396.2" y1="523.6" x2="396.2" y2="544.0" stroke="#222" stroke-width="1"/>
<line x1="394.8" y1="523.6" x2="397.6" y2="523.6" stroke="#222" stroke-width="1"/>
<line x1="394.8" y1="544.0" x2="397.6" y2="544.0" stroke="#222" stroke-width="1"/>
<line x1="393.2" y1="536.7" x2="399.2" y2="536.7" stroke="#000" stroke-width="1.8"/>
<line x1="408.0" y1="552.0" x2="408.0" y2="559.0" stroke="#222" stroke-width="1"/>
<line x1="406.6" y1="552.0" x2="409.4" y2="552.0" stroke="#222" stroke-width="1"/>
<line x1="406.6" y1="559.0" x2="409.4" y2="559.0" stroke="#222" stroke-width="1"/>
<line x1="405.0" y1="555.6" x2="411.0" y2="555.6" stroke="#000" stroke-width="1.8"/>
<line x1="438.2" y1="534.5" x2="438.2" y2="547.0" stroke="#222" stroke-width="1"/>
<line x1="436.8" y1="534.5" x2="439.6" y2="534.5" stroke="#222" stroke-width="1"/>
<line x1="436.8" y1="547.0" x2="439.6" y2="547.0" stroke="#222" stroke-width="1"/>
<line x1="435.2" y1="543.0" x2="441.2" y2="543.0" stroke="#000" stroke-width="1.8"/>
<line x1="450.0" y1="518.3" x2="450.0" y2="539.0" stroke="#222" stroke-width="1"/>
<line x1="448.6" y1="518.3" x2="451.4" y2="518.3" stroke="#222" stroke-width="1"/>
<line x1="448.6" y1="539.0" x2="451.4" y2="539.0" stroke="#222" stroke-width="1"/>
<line x1="447.0" y1="528.1" x2="453.0" y2="528.1" stroke="#000" stroke-width="1.8"/>
<line x1="461.8" y1="536.0" x2="461.8" y2="547.0" stroke="#222" stroke-width="1"/>
<line x1="460.4" y1="536.0" x2="463.2" y2="536.0" stroke="#222" stroke-width="1"/>
<line x1="460.4" y1="547.0" x2="463.2" y2="547.0" stroke="#222" stroke-width="1"/>
<line x1="458.8" y1="541.8" x2="464.8" y2="541.8" stroke="#000" stroke-width="1.8"/>
<line x1="491.6" y1="555.3" x2="491.6" y2="563.0" stroke="#222" stroke-width="1"/>
<line x1="490.2" y1="555.3" x2="493.0" y2="555.3" stroke="#222" stroke-width="1"/>
<line x1="490.2" y1="563.0" x2="493.0" y2="563.0" stroke="#222" stroke-width="1"/>
<line x1="488.6" y1="559.8" x2="494.6" y2="559.8" stroke="#000" stroke-width="1.8"/>
<line x1="503.7" y1="522.0" x2="503.7" y2="546.0" stroke="#222" stroke-width="1"/>
<line x1="502.3" y1="522.0" x2="505.1" y2="522.0" stroke="#222" stroke-width="1"/>
<line x1="502.3" y1="546.0" x2="505.1" y2="546.0" stroke="#222" stroke-width="1"/>
<line x1="500.7" y1="534.2" x2="506.7" y2="534.2" stroke="#000" stroke-width="1.8"/>
<line x1="515.7" y1="539.5" x2="515.7" y2="557.5" stroke="#222" stroke-width="1"/>
<line x1="514.3" y1="539.5" x2="517.1" y2="539.5" stroke="#222" stroke-width="1"/>
<line x1="514.3" y1="557.5" x2="517.1" y2="557.5" stroke="#222" stroke-width="1"/>
<line x1="512.7" y1="548.0" x2="518.7" y2="548.0" stroke="#000" stroke-width="1.8"/>
<line x1="545.6" y1="508.0" x2="545.6" y2="537.3" stroke="#222" stroke-width="1"/>
<line x1="544.2" y1="508.0" x2="547.0" y2="508.0" stroke="#222" stroke-width="1"/>
<line x1="544.2" y1="537.3" x2="547.0" y2="537.3" stroke="#222" stroke-width="1"/>
<line x1="542.6" y1="522.6" x2="548.6" y2="522.6" stroke="#000" stroke-width="1.8"/>
<line x1="557.6" y1="510.0" x2="557.6" y2="532.5" stroke="#222" stroke-width="1"/>
<line x1="556.2" y1="510.0" x2="559.0" y2="510.0" stroke="#222" stroke-width="1"/>
<line x1="556.2" y1="532.5" x2="559.0" y2="532.5" stroke="#222" stroke-width="1"/>
<line x1="554.6" y1="521.2" x2="560.6" y2="521.2" stroke="#000" stroke-width="1.8"/>
<line x1="569.6" y1="531.6" x2="569.6" y2="552.5" stroke="#222" stroke-width="1"/>
<line x1="568.2" y1="531.6" x2="571.0" y2="531.6" stroke="#222" stroke-width="1"/>
<line x1="568.2" y1="552.5" x2="571.0" y2="552.5" stroke="#222" stroke-width="1"/>
<line x1="566.6" y1="542.1" x2="572.6" y2="542.1" stroke="#000" stroke-width="1.8"/>
<line x1="599.3" y1="536.9" x2="599.3" y2="556.6" stroke="#222" stroke-width="1"/>
<line x1="597.9" y1="536.9" x2="600.7" y2="536.9" stroke="#222" stroke-width="1"/>
<line x1="597.9" y1="556.6" x2="600.7" y2="556.6" stroke="#222" stroke-width="1"/>
<line x1="596.3" y1="546.7" x2="602.3" y2="546.7" stroke="#000" stroke-width="1.8"/>
<line x1="611.4" y1="517.0" x2="611.4" y2="547.0" stroke="#222" stroke-width="1"/>
<line x1="610.0" y1="517.0" x2="612.8" y2="517.0" stroke="#222" stroke-width="1"/>
<line x1="610.0" y1="547.0" x2="612.8" y2="547.0" stroke="#222" stroke-width="1"/>
<line x1="608.4" y1="532.5" x2="614.4" y2="532.5" stroke="#000" stroke-width="1.8"/>
<line x1="623.3" y1="547.3" x2="623.3" y2="560.5" stroke="#222" stroke-width="1"/>
<line x1="621.9" y1="547.3" x2="624.7" y2="547.3" stroke="#222" stroke-width="1"/>
<line x1="621.9" y1="560.5" x2="624.7" y2="560.5" stroke="#222" stroke-width="1"/>
<line x1="620.3" y1="554.0" x2="626.3" y2="554.0" stroke="#000" stroke-width="1.8"/>
<line x1="653.0" y1="524.9" x2="653.0" y2="548.0" stroke="#222" stroke-width="1"/>
<line x1="651.6" y1="524.9" x2="654.4" y2="524.9" stroke="#222" stroke-width="1"/>
<line x1="651.6" y1="548.0" x2="654.4" y2="548.0" stroke="#222" stroke-width="1"/>
<line x1="650.0" y1="537.0" x2="656.0" y2="537.0" stroke="#000" stroke-width="1.8"/>
<line x1="664.9" y1="548.5" x2="664.9" y2="559.0" stroke="#222" stroke-width="1"/>
<line x1="663.5" y1="548.5" x2="666.3" y2="548.5" stroke="#222" stroke-width="1"/>
<line x1="663.5" y1="559.0" x2="666.3" y2="559.0" stroke="#222" stroke-width="1"/>
<line x1="661.9" y1="553.6" x2="667.9" y2="553.6" stroke="#000" stroke-width="1.8"/>
<line x1="676.9" y1="547.8" x2="676.9" y2="559.4" stroke="#222" stroke-width="1"/>
<line x1="675.5" y1="547.8" x2="678.3" y2="547.8" stroke="#222" stroke-width="1"/>
<line x1="675.5" y1="559.4" x2="678.3" y2="559.4" stroke="#222" stroke-width="1"/>
<line x1="673.9" y1="553.6" x2="679.9" y2="553.6" stroke="#000" stroke-width="1.8"/>
<circle cx="61.8" cy="491.3" r="2.7" fill="#c6dbf5"/>
<circle cx="61.8" cy="542.7" r="2.7" fill="#c6dbf5"/>
<circle cx="61.8" cy="546.6" r="2.7" fill="#c6dbf5"/>
<circle cx="61.8" cy="565.5" r="2.7" fill="#c6dbf5"/>
<circle cx="61.8" cy="571.0" r="2.7" fill="#c6dbf5"/>
<circle cx="61.8" cy="573.2" r="2.7" fill="#c6dbf5"/>
<rect x="71.0" y="530.5" width="5.3" height="5.3" fill="#0000ff"/>
<rect x="71.0" y="533.1" width="5.3" height="5.3" fill="#0000ff"/>
<rect x="71.0" y="538.1" width="5.3" height="5.3" fill="#0000ff"/>
<rect x="71.0" y="551.0" width="5.3" height="5.3" fill="#0000ff"/>
<rect x="71.0" y="565.8" width="5.3" height="5.3" fill="#0000ff"/>
<rect x="71.0" y="577.1" width="5.3" height="5.3" fill="#0000ff"/>
<path d="M85.7 448.7L88.7 453.9L82.8 453.9Z" fill="#ff0000"/>
<path d="M85.7 519.9L88.7 525.1L82.8 525.1Z" fill="#ff0000"/>
<path d="M85.7 539.1L88.7 544.4L82.8 544.4Z" fill="#ff0000"/>
<path d="M85.7 548.9L88.7 554.1L82.8 554.1Z" fill="#ff0000"/>
<path d="M85.7 555.5L88.7 560.8L82.8 560.8Z" fill="#ff0000"/>
<path d="M85.7 562.0L88.7 567.2L82.8 567.2Z" fill="#ff0000"/>
<circle cx="115.5" cy="542.5" r="2.7" fill="#c6dbf5"/>
<circle cx="115.5" cy="552.1" r="2.7" fill="#c6dbf5"/>
<circle cx="115.5" cy="555.9" r="2.7" fill="#c6dbf5"/>
<circle cx="115.5" cy="567.5" r="2.7" fill="#c6dbf5"/>
<rect x="124.8" y="492.7" width="5.3" height="5.3" fill="#0000ff"/>
<rect x="124.8" y="521.6" width="5.3" height="5.3" fill="#0000ff"/>
<rect x="124.8" y="530.2" width="5.3" height="5.3" fill="#0000ff"/>
<rect x="124.8" y="554.4" width="5.3" height="5.3" fill="#0000ff"/>
<rect x="124.8" y="563.0" width="5.3" height="5.3" fill="#0000ff"/>
<rect x="124.8" y="566.1" width="5.3" height="5.3" fill="#0000ff"/>
<path d="M139.3 468.2L142.2 473.5L136.4 473.5Z" fill="#ff0000"/>
<path d="M139.3 522.1L142.2 527.4L136.4 527.4Z" fill="#ff0000"/>
<path d="M139.3 544.4L142.2 549.6L136.4 549.6Z" fill="#ff0000"/>
<path d="M139.3 555.6L142.2 560.9L136.4 560.9Z" fill="#ff0000"/>
<path d="M139.3 562.6L142.2 567.9L136.4 567.9Z" fill="#ff0000"/>
<circle cx="169.2" cy="515.7" r="2.7" fill="#c6dbf5"/>
<circle cx="169.2" cy="540.4" r="2.7" fill="#c6dbf5"/>
<circle cx="169.2" cy="547.5" r="2.7" fill="#c6dbf5"/>
<circle cx="169.2" cy="551.1" r="2.7" fill="#c6dbf5"/>
<circle cx="169.2" cy="571.0" r="2.7" fill="#c6dbf5"/>
<rect x="178.7" y="475.2" width="5.3" height="5.3" fill="#0000ff"/>
<rect x="178.7" y="491.1" width="5.3" height="5.3" fill="#0000ff"/>
<rect x="178.7" y="504.2" width="5.3" height="5.3" fill="#0000ff"/>
<rect x="178.7" y="525.9" width="5.3" height="5.3" fill="#0000ff"/>
<rect x="178.7" y="527.4" width="5.3" height="5.3" fill="#0000ff"/>
<rect x="178.7" y="546.8" width="5.3" height="5.3" fill="#0000ff"/>
<path d="M193.2 481.2L196.1 486.5L190.2 486.5Z" fill="#ff0000"/>
<path d="M193.2 492.9L196.1 498.1L190.2 498.1Z" fill="#ff0000"/>
<path d="M193.2 511.9L196.1 517.1L190.2 517.1Z" fill="#ff0000"/>
<path d="M193.2 518.2L196.1 523.5L190.2 523.5Z" fill="#ff0000"/>
<path d="M193.2 522.8L196.1 528.0L190.2 528.0Z" fill="#ff0000"/>
<path d="M193.2 577.4L196.1 582.6L190.2 582.6Z" fill="#ff0000"/>
<circle cx="222.8" cy="506.2" r="2.7" fill="#c6dbf5"/>
<circle cx="222.8" cy="553.1" r="2.7" fill="#c6dbf5"/>
<circle cx="222.8" cy="563.6" r="2.7" fill="#c6dbf5"/>
<circle cx="222.8" cy="569.4" r="2.7" fill="#c6dbf5"/>
<rect x="232.3" y="470.6" width="5.3" height="5.3" fill="#0000ff"/>
<rect x="232.3" y="495.2" width="5.3" height="5.3" fill="#0000ff"/>
<rect x="232.3" y="517.4" width="5.3" height="5.3" fill="#0000ff"/>
<rect x="232.3" y="533.6" width="5.3" height="5.3" fill="#0000ff"/>
<rect x="232.3" y="539.1" width="5.3" height="5.3" fill="#0000ff"/>
<rect x="232.3" y="556.1" width="5.3" height="5.3" fill="#0000ff"/>
<path d="M247.0 495.7L249.9 500.9L244.1 500.9Z" fill="#ff0000"/>
<path d="M247.0 512.0L249.9 517.2L244.1 517.2Z" fill="#ff0000"/>
<path d="M247.0 522.0L249.9 527.2L244.1 527.2Z" fill="#ff0000"/>
<path d="M247.0 528.8L249.9 534.0L244.1 534.0Z" fill="#ff0000"/>
<path d="M247.0 560.4L249.9 565.6L244.1 565.6Z" fill="#ff0000"/>
<circle cx="276.6" cy="485.0" r="2.7" fill="#c6dbf5"/>
<circle cx="276.6" cy="542.5" r="2.7" fill="#c6dbf5"/>
<circle cx="276.6" cy="551.5" r="2.7" fill="#c6dbf5"/>
<circle cx="276.6" cy="556.6" r="2.7" fill="#c6dbf5"/>
<circle cx="276.6" cy="567.5" r="2.7" fill="#c6dbf5"/>
<circle cx="276.6" cy="578.8" r="2.7" fill="#c6dbf5"/>
<rect x="286.0" y="471.8" width="5.3" height="5.3" fill="#0000ff"/>
<rect x="286.0" y="520.6" width="5.3" height="5.3" fill="#0000ff"/>
<rect x="286.0" y="526.1" width="5.3" height="5.3" fill="#0000ff"/>
<rect x="286.0" y="533.4" width="5.3" height="5.3" fill="#0000ff"/>
<rect x="286.0" y="546.2" width="5.3" height="5.3" fill="#0000ff"/>
<rect x="286.0" y="553.2" width="5.3" height="5.3" fill="#0000ff"/>
<path d="M300.6 501.7L303.6 506.9L297.7 506.9Z" fill="#ff0000"/>
<path d="M300.6 518.9L303.6 524.1L297.7 524.1Z" fill="#ff0000"/>
<path d="M300.6 525.4L303.6 530.6L297.7 530.6Z" fill="#ff0000"/>
<path d="M300.6 544.6L303.6 549.9L297.7 549.9Z" fill="#ff0000"/>
<path d="M300.6 551.4L303.6 556.6L297.7 556.6Z" fill="#ff0000"/>
<circle cx="330.6" cy="524.5" r="2.7" fill="#c6dbf5"/>
<circle cx="330.6" cy="528.0" r="2.7" fill="#c6dbf5"/>
<circle cx="330.6" cy="549.1" r="2.7" fill="#c6dbf5"/>
<circle cx="330.6" cy="553.0" r="2.7" fill="#c6dbf5"/>
<circle cx="330.6" cy="557.9" r="2.7" fill="#c6dbf5"/>
<rect x="340.0" y="479.2" width="5.3" height="5.3" fill="#0000ff"/>
<rect x="340.0" y="508.2" width="5.3" height="5.3" fill="#0000ff"/>
<rect x="340.0" y="530.0" width="5.3" height="5.3" fill="#0000ff"/>
<rect x="340.0" y="538.8" width="5.3" height="5.3" fill="#0000ff"/>
<rect x="340.0" y="547.6" width="5.3" height="5.3" fill="#0000ff"/>
<path d="M354.4 512.1L357.3 517.4L351.4 517.4Z" fill="#ff0000"/>
<path d="M354.4 525.4L357.3 530.6L351.4 530.6Z" fill="#ff0000"/>
<path d="M354.4 556.8L357.3 562.0L351.4 562.0Z" fill="#ff0000"/>
<path d="M354.4 574.6L357.3 579.9L351.4 579.9Z" fill="#ff0000"/>
<circle cx="384.4" cy="537.4" r="2.7" fill="#c6dbf5"/>
<circle cx="384.4" cy="542.9" r="2.7" fill="#c6dbf5"/>
<circle cx="384.4" cy="551.3" r="2.7" fill="#c6dbf5"/>
<circle cx="384.4" cy="566.5" r="2.7" fill="#c6dbf5"/>
<circle cx="384.4" cy="569.9" r="2.7" fill="#c6dbf5"/>
<rect x="393.6" y="487.2" width="5.3" height="5.3" fill="#0000ff"/>
<rect x="393.6" y="520.4" width="5.3" height="5.3" fill="#0000ff"/>
<rect x="393.6" y="538.8" width="5.3" height="5.3" fill="#0000ff"/>
<rect x="393.6" y="545.4" width="5.3" height="5.3" fill="#0000ff"/>
<rect x="393.6" y="553.6" width="5.3" height="5.3" fill="#0000ff"/>
<rect x="393.6" y="558.0" width="5.3" height="5.3" fill="#0000ff"/>
<path d="M408.0 545.9L410.9 551.1L405.1 551.1Z" fill="#ff0000"/>
<path d="M408.0 550.4L410.9 555.6L405.1 555.6Z" fill="#ff0000"/>
<path d="M408.0 552.6L410.9 557.9L405.1 557.9Z" fill="#ff0000"/>
<path d="M408.0 556.4L410.9 561.6L405.1 561.6Z" fill="#ff0000"/>
<path d="M408.0 563.1L410.9 568.4L405.1 568.4Z" fill="#ff0000"/>
<circle cx="438.2" cy="522.1" r="2.7" fill="#c6dbf5"/>
<circle cx="438.2" cy="528.5" r="2.7" fill="#c6dbf5"/>
<circle cx="438.2" cy="543.2" r="2.7" fill="#c6dbf5"/>
<circle cx="438.2" cy="551.8" r="2.7" fill="#c6dbf5"/>
<circle cx="438.2" cy="565.4" r="2.7" fill="#c6dbf5"/>
<rect x="447.4" y="494.4" width="5.3" height="5.3" fill="#0000ff"/>
<rect x="447.4" y="497.4" width="5.3" height="5.3" fill="#0000ff"/>
<rect x="447.4" y="522.2" width="5.3" height="5.3" fill="#0000ff"/>
<rect x="447.4" y="539.2" width="5.3" height="5.3" fill="#0000ff"/>
<rect x="447.4" y="548.1" width="5.3" height="5.3" fill="#0000ff"/>
<rect x="447.4" y="551.4" width="5.3" height="5.3" fill="#0000ff"/>
<path d="M461.8 527.6L464.8 532.9L458.9 532.9Z" fill="#ff0000"/>
<path d="M461.8 534.6L464.8 539.9L458.9 539.9Z" fill="#ff0000"/>
<path d="M461.8 546.0L464.8 551.2L458.9 551.2Z" fill="#ff0000"/>
<path d="M461.8 550.1L464.8 555.4L458.9 555.4Z" fill="#ff0000"/>
<circle cx="491.6" cy="541.8" r="2.7" fill="#c6dbf5"/>
<circle cx="491.6" cy="552.3" r="2.7" fill="#c6dbf5"/>
<circle cx="491.6" cy="560.4" r="2.7" fill="#c6dbf5"/>
<circle cx="491.6" cy="563.4" r="2.7" fill="#c6dbf5"/>
<circle cx="491.6" cy="570.0" r="2.7" fill="#c6dbf5"/>
<rect x="501.1" y="473.4" width="5.3" height="5.3" fill="#0000ff"/>
<rect x="501.1" y="527.4" width="5.3" height="5.3" fill="#0000ff"/>
<rect x="501.1" y="539.0" width="5.3" height="5.3" fill="#0000ff"/>
<rect x="501.1" y="543.6" width="5.3" height="5.3" fill="#0000ff"/>
<rect x="501.1" y="545.6" width="5.3" height="5.3" fill="#0000ff"/>
<rect x="501.1" y="559.5" width="5.3" height="5.3" fill="#0000ff"/>
<path d="M515.7 522.9L518.7 528.1L512.8 528.1Z" fill="#ff0000"/>
<path d="M515.7 532.9L518.7 538.1L512.8 538.1Z" fill="#ff0000"/>
<path d="M515.7 536.6L518.7 541.9L512.8 541.9Z" fill="#ff0000"/>
<path d="M515.7 566.8L518.7 572.0L512.8 572.0Z" fill="#ff0000"/>
<path d="M515.7 568.6L518.7 573.9L512.8 573.9Z" fill="#ff0000"/>
<circle cx="545.6" cy="468.6" r="2.7" fill="#c6dbf5"/>
<circle cx="545.6" cy="507.1" r="2.7" fill="#c6dbf5"/>
<circle cx="545.6" cy="512.4" r="2.7" fill="#c6dbf5"/>
<circle cx="545.6" cy="526.6" r="2.7" fill="#c6dbf5"/>
<circle cx="545.6" cy="546.6" r="2.7" fill="#c6dbf5"/>
<circle cx="545.6" cy="574.3" r="2.7" fill="#c6dbf5"/>
<rect x="555.0" y="494.9" width="5.3" height="5.3" fill="#0000ff"/>
<rect x="555.0" y="499.8" width="5.3" height="5.3" fill="#0000ff"/>
<rect x="555.0" y="501.7" width="5.3" height="5.3" fill="#0000ff"/>
<rect x="555.0" y="508.5" width="5.3" height="5.3" fill="#0000ff"/>
<rect x="555.0" y="543.1" width="5.3" height="5.3" fill="#0000ff"/>
<rect x="555.0" y="562.1" width="5.3" height="5.3" fill="#0000ff"/>
<path d="M569.6 519.6L572.6 524.9L566.6 524.9Z" fill="#ff0000"/>
<path d="M569.6 545.0L572.6 550.2L566.6 550.2Z" fill="#ff0000"/>
<path d="M569.6 555.0L572.6 560.2L566.6 560.2Z" fill="#ff0000"/>
<circle cx="599.3" cy="503.4" r="2.7" fill="#c6dbf5"/>
<circle cx="599.3" cy="539.3" r="2.7" fill="#c6dbf5"/>
<circle cx="599.3" cy="541.6" r="2.7" fill="#c6dbf5"/>
<circle cx="599.3" cy="543.7" r="2.7" fill="#c6dbf5"/>
<circle cx="599.3" cy="563.6" r="2.7" fill="#c6dbf5"/>
<circle cx="599.3" cy="565.6" r="2.7" fill="#c6dbf5"/>
<rect x="608.8" y="462.7" width="5.3" height="5.3" fill="#0000ff"/>
<rect x="608.8" y="508.5" width="5.3" height="5.3" fill="#0000ff"/>
<rect x="608.8" y="540.9" width="5.3" height="5.3" fill="#0000ff"/>
<rect x="608.8" y="548.1" width="5.3" height="5.3" fill="#0000ff"/>
<rect x="608.8" y="552.6" width="5.3" height="5.3" fill="#0000ff"/>
<rect x="608.8" y="564.6" width="5.3" height="5.3" fill="#0000ff"/>
<path d="M623.3 538.6L626.2 543.9L620.3 543.9Z" fill="#ff0000"/>
<path d="M623.3 556.6L626.2 561.9L620.3 561.9Z" fill="#ff0000"/>
<path d="M623.3 558.6L626.2 563.9L620.3 563.9Z" fill="#ff0000"/>
<circle cx="653.0" cy="481.6" r="2.7" fill="#c6dbf5"/>
<circle cx="653.0" cy="527.8" r="2.7" fill="#c6dbf5"/>
<circle cx="653.0" cy="536.6" r="2.7" fill="#c6dbf5"/>
<circle cx="653.0" cy="550.8" r="2.7" fill="#c6dbf5"/>
<circle cx="653.0" cy="558.7" r="2.7" fill="#c6dbf5"/>
<circle cx="653.0" cy="569.3" r="2.7" fill="#c6dbf5"/>
<rect x="662.2" y="531.4" width="5.3" height="5.3" fill="#0000ff"/>
<rect x="662.2" y="541.4" width="5.3" height="5.3" fill="#0000ff"/>
<rect x="662.2" y="552.6" width="5.3" height="5.3" fill="#0000ff"/>
<rect x="662.2" y="556.6" width="5.3" height="5.3" fill="#0000ff"/>
<rect x="662.2" y="559.4" width="5.3" height="5.3" fill="#0000ff"/>
<rect x="662.2" y="563.6" width="5.3" height="5.3" fill="#0000ff"/>
<path d="M676.9 535.6L679.9 540.9L673.9 540.9Z" fill="#ff0000"/>
<path d="M676.9 539.5L679.9 544.8L673.9 544.8Z" fill="#ff0000"/>
<path d="M676.9 553.1L679.9 558.4L673.9 558.4Z" fill="#ff0000"/>
<path d="M676.9 561.1L679.9 566.4L673.9 566.4Z" fill="#ff0000"/>
<path d="M676.9 567.0L679.9 572.2L673.9 572.2Z" fill="#ff0000"/>
<path d="M328.6 296.0V207.9H353.3V224.2" fill="none" stroke="#000" stroke-width="2.1"/>
<path d="M557.4 286.5V208.5H569.3V224.1" fill="none" stroke="#000" stroke-width="2.1"/>
<path d="M598.0 274.7V188.2H622.8V203.9" fill="none" stroke="#000" stroke-width="2.1"/>
<path d="M610.5 286.2V208.4H622.3V218.4" fill="none" stroke="#000" stroke-width="2.1"/>
<path d="M652.4 286.3V145.5H676.0V156.7" fill="none" stroke="#000" stroke-width="2.1"/>
<path d="M665.6 286.3V162.3H677.0V168.6" fill="none" stroke="#000" stroke-width="2.1"/>
<text x="341.50" y="210.30" font-size="18.5" text-anchor="middle">*</text>
<text x="609.00" y="211.40" font-size="18.5" text-anchor="middle">*</text>
<text x="617.50" y="211.40" font-size="18.5" text-anchor="middle">*</text>
<text x="663.40" y="148.10" font-size="18.5" text-anchor="middle">*</text>
<text x="670.00" y="165.30" font-size="18.5" text-anchor="middle">*</text>
</svg>
</body></html>
